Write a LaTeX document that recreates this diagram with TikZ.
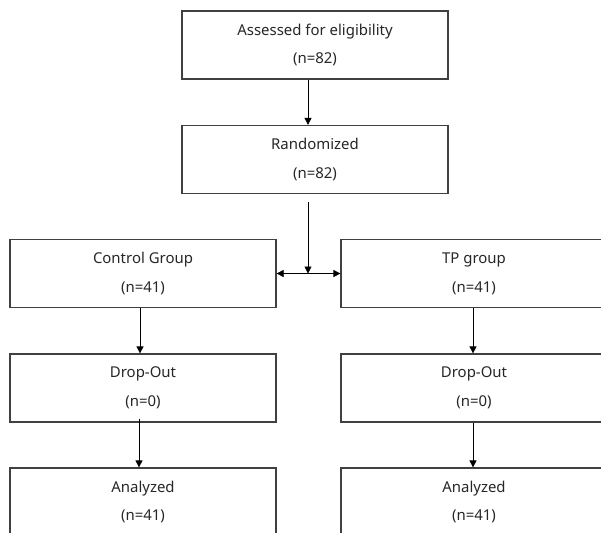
\documentclass[tikz,border=0pt]{standalone}
\usepackage{fontspec}
\setmainfont{Noto Sans}
\usetikzlibrary{positioning,arrows.meta}

\tikzset{
  box/.style={draw=black!75, line width=1.2bp, minimum width=266bp, minimum height=68bp,
    inner sep=0pt, align=center, text=black!85, font=\fontsize{15}{29}\selectfont},
  arr/.style={-{Triangle[length=7bp,width=7bp]}, line width=0.7bp},
  darr/.style={{Triangle[length=7bp,width=7bp]}-{Triangle[length=7bp,width=7bp]}, line width=0.7bp},
}

\begin{document}
\begin{tikzpicture}[x=1bp,y=-1bp]
\useasboundingbox (0,0) rectangle (601,533);
\clip (0,0) rectangle (601,533);
% screening and randomisation
\node[box] (assess) at (315,45) {Assessed for eligibility\\(n=82)};
\node[box] (rand) at (315,159.5) {Randomized\\(n=82)};
\coordinate (split) at (308,273.5);
% the two arms
\node[box] (ctrl) at (143,273.5) {Control Group\\(n=41)};
\node[box] (tp) at (474,273.5) {TP group\\(n=41)};
\node[box] (cdrop) at (143,388) {Drop-Out\\(n=0)};
\node[box] (tdrop) at (474,388) {Drop-Out\\(n=0)};
\node[box] (cana) at (143,502) {Analyzed\\(n=41)};
\node[box] (tana) at (474,502) {Analyzed\\(n=41)};
% connectors
\draw[arr] (assess.south -| split) -- (rand.north -| split);
\draw[arr] ([yshift=-8bp]rand.south -| split) -- (split);
\draw[darr] (ctrl.east) -- (tp.west);
\draw[arr] ([xshift=-3bp]ctrl.south) -- ([xshift=-3bp]cdrop.north);
\draw[arr] ([xshift=-1bp]tp.south) -- ([xshift=-1bp]tdrop.north);
\draw[arr] ([xshift=-4bp,yshift=4bp]cdrop.south) -- ([xshift=-4bp]cana.north);
\draw[arr] ([xshift=-1bp]tdrop.south) -- ([xshift=-1bp]tana.north);
\end{tikzpicture}
\end{document}
